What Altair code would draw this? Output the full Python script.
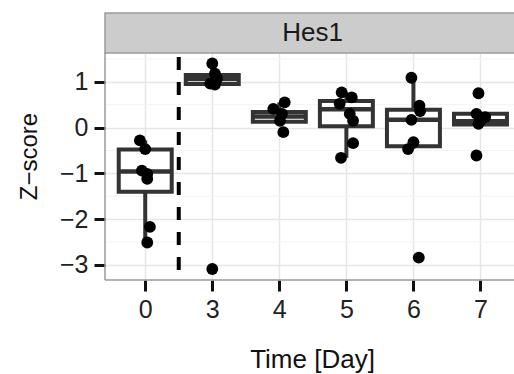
import altair as alt
import pandas as pd

# ---- data ----
days = ["0", "3", "4", "5", "6", "7"]
q1 = [-1.40, 0.95, 0.13, 0.03, -0.41, 0.07]
median = [-0.96, 1.06, 0.24, 0.40, 0.17, 0.14]
q3 = [-0.48, 1.15, 0.34, 0.58, 0.39, 0.30]
whisker_low = [-2.51, 0.94, 0.13, -0.66, -0.47, 0.05]
whisker_high = [-0.28, 1.40, 0.55, 0.77, 1.09, 0.30]

day0_values = [-0.28, -0.47, -0.94, -1.01, -1.12, -2.17, -2.51]
day0_jitter = [-0.08, 0.00, -0.05, 0.03, 0.03, 0.07, 0.03]
day3_values = [1.40, 1.18, 1.07, 0.96, 0.94, -3.09]
day3_jitter = [0.00, 0.04, 0.07, -0.03, 0.04, 0.00]
day4_values = [0.55, 0.41, 0.30, 0.15, -0.10]
day4_jitter = [0.08, -0.09, 0.04, 0.01, 0.06]
day5_values = [0.77, 0.66, 0.52, 0.30, 0.15, -0.34, -0.66]
day5_jitter = [-0.07, 0.08, -0.10, 0.05, 0.10, 0.10, -0.08]
day6_values = [1.09, 0.48, 0.36, 0.17, -0.32, -0.47, -2.84]
day6_jitter = [-0.03, 0.09, 0.10, -0.03, 0.00, -0.08, 0.08]
day7_values = [0.75, 0.30, 0.23, 0.15, 0.08, -0.61]
day7_jitter = [-0.03, -0.06, 0.07, 0.00, -0.03, -0.06]

minor_breaks = [-2.5, -1.5, -0.5, 0.5, 1.5]
major_breaks = [-3, -2, -1, 0, 1]
panel_label = "Hes1"
divider_position = [0.5]

# ---- tables ----
box_half = 0.395
box_df = pd.DataFrame({
    "idx": list(range(len(days))),
    "q1": q1, "median": median, "q3": q3,
    "low": whisker_low, "high": whisker_high,
})
box_df["left"] = box_df["idx"] - box_half
box_df["right"] = box_df["idx"] + box_half

all_vals = [day0_values, day3_values, day4_values, day5_values, day6_values, day7_values]
all_jit = [day0_jitter, day3_jitter, day4_jitter, day5_jitter, day6_jitter, day7_jitter]
rows = []
for i, (vals, jit) in enumerate(zip(all_vals, all_jit)):
    for v, j in zip(vals, jit):
        rows.append({"pos": i + j, "val": v})
pts_df = pd.DataFrame(rows)
minor_df = pd.DataFrame({"val": minor_breaks})
divider_df = pd.DataFrame({"d": divider_position})
one = pd.DataFrame({"a": [0]})

W, H = 409, 227
FONT = "Liberation Sans"

xscale = alt.Scale(domain=[-0.6, 5.5], nice=False, zero=False)
yscale = alt.Scale(domain=[-3.33, 1.63], nice=False, zero=False)
label_map = "[" + ",".join('"%s"' % d for d in days) + "][datum.value]"
xaxis = alt.Axis(values=list(range(len(days))), labelExpr=label_map, title="Time [Day]",
                 titleX=207, titleY=87, titleBaseline="alphabetic", titleFontSize=26,
                 labelPadding=6, labelFlush=False, labelOverlap=False)
yaxis = alt.Axis(values=major_breaks, title="Z\u2212score", titleAngle=270,
                 titleX=-76, titleY=103, titleBaseline="middle", titleAlign="center",
                 titleFontSize=24, labelPadding=6, labelFlush=False, labelOverlap=False)


def X(field):
    return alt.X(field, type="quantitative", scale=xscale, axis=xaxis)


def Y(field):
    return alt.Y(field, type="quantitative", scale=yscale, axis=yaxis)


DARK = "#333333"
minor = alt.Chart(minor_df).mark_rule(color="#F3F3F3", strokeWidth=1).encode(y=Y("val"))

whisk_hi = alt.Chart(box_df).mark_rule(color=DARK, strokeWidth=4).encode(
    x=X("idx"), y=Y("high"), y2="q3")
whisk_lo = alt.Chart(box_df).mark_rule(color=DARK, strokeWidth=4).encode(
    x=X("idx"), y=Y("low"), y2="q1")
boxes = alt.Chart(box_df).mark_rect(fill="white", stroke=DARK, strokeWidth=4).encode(
    x=X("left"), x2="right", y=Y("q3"), y2="q1")
medians = alt.Chart(box_df).mark_rule(color=DARK, strokeWidth=4.5).encode(
    x=X("left"), x2="right", y=Y("median"))

divider = alt.Chart(divider_df).mark_rule(color="black", strokeWidth=4, strokeDash=[13, 12],
                                          strokeDashOffset=21).encode(x=X("d"))

points = alt.Chart(pts_df).mark_circle(color="black", opacity=1, size=140).encode(
    x=X("pos"), y=Y("val"))

border_left = alt.Chart(one).mark_rule(color="#9A9A9A", strokeWidth=1.5).encode(
    x=alt.value(0), y=alt.value(0), y2=alt.value(H))
border_bottom = alt.Chart(one).mark_rule(color="#9A9A9A", strokeWidth=1.5).encode(
    x=alt.value(0), x2=alt.value(W + 4), y=alt.value(H))

strip = alt.Chart(one).mark_rect(fill="#CCCCCC", stroke="#9A9A9A", strokeWidth=1.5).encode(
    x=alt.value(0), x2=alt.value(W + 4), y=alt.value(-40), y2=alt.value(0))
strip_text = alt.Chart(one).mark_text(text=panel_label, font=FONT, fontSize=26,
                                      color="#1A1A1A", baseline="middle", align="center").encode(
    x=alt.value(207.5), y=alt.value(-20))

chart = alt.layer(
    minor, whisk_hi, whisk_lo, boxes, medians, divider, points,
    border_left, border_bottom, strip, strip_text
).properties(
    width=W, height=H,
    autosize=alt.AutoSizeParams(type="none"),
    padding={"left": 105, "top": 53, "right": 0, "bottom": 94},
    background="white",
).configure_view(strokeWidth=0).configure_axis(
    labelFont=FONT, labelFontSize=25, labelColor="#222222",
    titleFont=FONT, titleFontWeight="normal", titleColor="#111111",
    tickColor="#111111", tickWidth=3, tickSize=11,
    gridColor="#E6E6E6", gridWidth=1.5, domain=False,
)

chart.save("out.html", embed_options={"renderer": "svg", "actions": False})
